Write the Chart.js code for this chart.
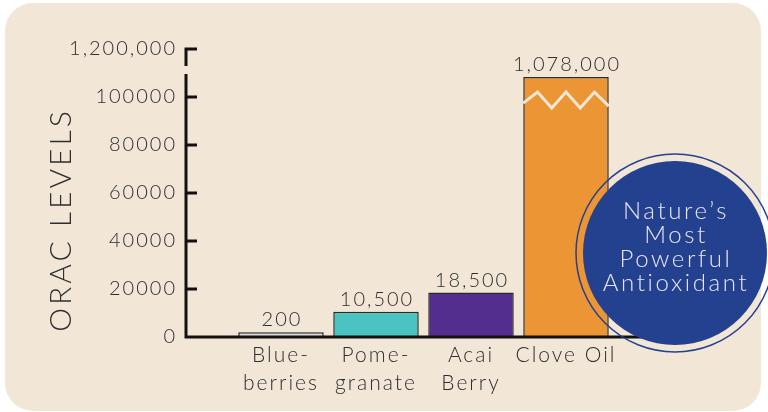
<!DOCTYPE html>
<html>
<head>
<meta charset="utf-8">
<script src="https://cdn.jsdelivr.net/npm/chart.js@4.4.0/dist/chart.umd.min.js"></script>
<style>
html,body{margin:0;padding:0;background:#fff;}
#wrap{width:768px;height:412px;}
</style>
</head>
<body>
<div id="wrap"><canvas id="grafico" width="768" height="412"></canvas></div>
<script>
// datos
var frutas = [["Blue-","berries"],["Pome-","granate"],["Acai","Berry"],["Clove Oil"]];
var orac = [200, 10500, 18500, 1078000];
// altura que se dibuja (eje cortado arriba de 100000, barra chica con minimo visible)
var alturas = [2000, 10500, 18500, 108300];
var colores = ["#dcdde2","#4cc3c3","#542e8f","#ec9535"];
var marcasY = [0,20000,40000,60000,80000,100000,120000];
var etiquetasY = ["0","20000","40000","60000","80000","100000","1,200,000"];
var titulo = "ORAC LEVELS";
var textoCirculo = ["Nature\u2019s","Most","Powerful","Antioxidant"];

var tinta = "#2e2e2e";
var beige = "#f2e7d7";
var azul = "#24418f";
var letra = "'Lato Light', Lato, sans-serif";

function espaciar(chart){ chart.ctx.letterSpacing = "2px"; }

var fondo = {
  id:'fondo',
  beforeUpdate: espaciar,
  beforeLayout: espaciar,
  beforeDraw: function(chart){
    var c = chart.ctx;
    espaciar(chart);
    c.save();
    c.fillStyle = "#fff";
    c.fillRect(0,0,chart.width,chart.height);
    c.fillStyle = beige;
    c.beginPath();
    c.roundRect(5,3,756,408,28);
    c.fill();
    c.restore();
  }
};

// ejes con corte arriba
var ejes = {
  id:'ejes',
  afterDatasetsDraw: function(chart){
    var c = chart.ctx, a = chart.chartArea, y = chart.scales.y;
    var x0 = a.left, y0 = y.getPixelForValue(0);
    var yTop = y.getPixelForValue(marcasY[marcasY.length-1]);
    var y100 = y.getPixelForValue(marcasY[marcasY.length-2]);
    c.save();
    c.strokeStyle = "#111";
    c.lineWidth = 3;
    c.lineJoin = "miter";
    c.beginPath();
    c.moveTo(x0-1.5, y0); c.lineTo(a.right, y0);
    c.moveTo(x0, y0); c.lineTo(x0, y100-23);
    c.moveTo(x0+11, yTop); c.lineTo(x0, yTop); c.lineTo(x0, yTop+17);
    marcasY.forEach(function(v, i){
      if (i > 0 && i < marcasY.length-1) {
        var p = y.getPixelForValue(v);
        c.moveTo(x0, p); c.lineTo(x0+11, p);
      }
    });
    c.stroke();
    c.restore();
  }
};

var extras = {
  id:'extras',
  afterDraw: function(chart){
    var c = chart.ctx;
    var meta = chart.getDatasetMeta(0);
    c.save();
    espaciar(chart);
    // valores arriba de las barras
    c.fillStyle = tinta;
    c.font = "300 20px " + letra;
    c.textAlign = "center";
    c.textBaseline = "alphabetic";
    meta.data.forEach(function(bar, i){
      c.fillText(orac[i].toLocaleString('en-US'), bar.x + 1, bar.y - 6);
      // zigzag de corte
      if (orac[i] > alturas[i] * 2) {
        var l = bar.x - bar.width/2, w = bar.width, t = bar.y;
        var ys = [26, 15, 31, 15, 31, 15, 29];
        c.strokeStyle = beige;
        c.lineWidth = 3;
        c.beginPath();
        ys.forEach(function(d, k){
          var px = l + w*k/6, py = t + d;
          if (k == 0) c.moveTo(px, py); else c.lineTo(px, py);
        });
        c.stroke();
      }
    });

    // titulo eje y
    c.save();
    c.translate(61, 220);
    c.rotate(-Math.PI/2);
    c.letterSpacing = "3px";
    c.font = "300 30px " + letra;
    c.textBaseline = "middle";
    c.fillText(titulo, 0, 0);
    c.restore();

    // circulo
    var cx = 675, cy = 253;
    c.fillStyle = azul;
    c.beginPath(); c.arc(cx, cy, 92, 0, Math.PI*2); c.fill();
    c.strokeStyle = azul;
    c.lineWidth = 1.5;
    c.beginPath(); c.arc(cx, cy, 99, 0, Math.PI*2); c.stroke();
    c.fillStyle = "#e9e7f0";
    c.letterSpacing = "2.6px";
    c.font = "300 24px " + letra;
    textoCirculo.forEach(function(t, i){
      c.fillText(t, cx + 1, cy + 2 + (i - 1.5)*24);
    });
    c.restore();
  }
};

var ctx = document.getElementById('grafico').getContext('2d');
var grafico = new Chart(ctx, {
  type: 'bar',
  data: {
    datasets: [{
      data: alturas.map(function(h, i){ return {x: i+1, y: h}; }),
      backgroundColor: colores,
      borderColor: "#2a2a2a",
      borderWidth: 1.5,
      barPercentage: 0.9,
      categoryPercentage: 1
    }]
  },
  options: {
    responsive: false,
    devicePixelRatio: 1,
    animation: false,
    layout: { padding: { top: 49, right: 107, left: 0, bottom: 0 } },
    plugins: { legend: { display: false }, tooltip: { enabled: false } },
    scales: {
      x: {
        type: 'linear', min: 0, max: 5, offset: false,
        grid: { display: false, drawTicks: false },
        border: { display: false },
        afterBuildTicks: function(s){ s.ticks = frutas.map(function(f, i){ return {value: i+1}; }); },
        afterFit: function(s){ s.height = 75; },
        ticks: {
          autoSkip: false, maxRotation: 0, padding: 5, color: tinta,
          font: { family: letra, size: 21, weight: '300', lineHeight: 1.3 },
          callback: function(v){ return frutas[v-1] || ''; }
        }
      },
      y: {
        min: 0, max: 120000,
        grid: { display: false, drawTicks: false },
        border: { display: false },
        afterBuildTicks: function(s){ s.ticks = marcasY.map(function(v){ return {value: v}; }); },
        afterFit: function(s){ s.width = 186; },
        ticks: {
          padding: 9, color: tinta,
          font: { family: letra, size: 20, weight: '300' },
          callback: function(v){ return etiquetasY[marcasY.indexOf(v)]; }
        }
      }
    }
  },
  plugins: [fondo, ejes, extras]
});
</script>
</body>
</html>
